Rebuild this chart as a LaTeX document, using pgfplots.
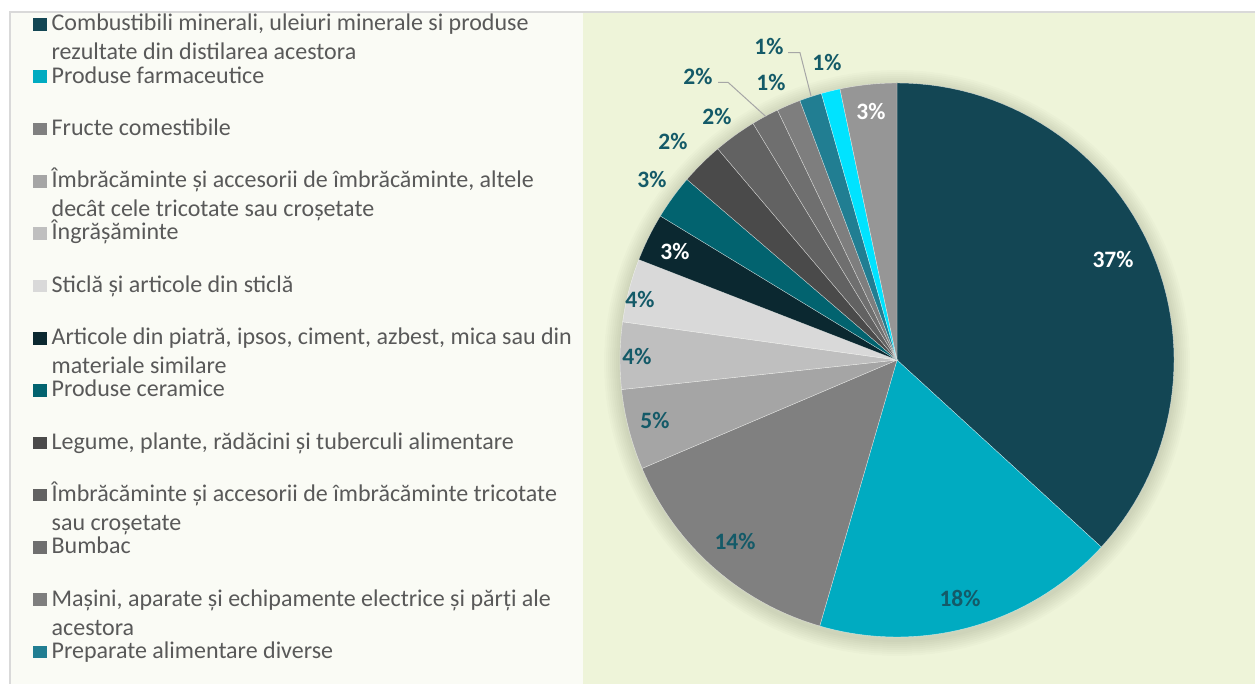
\documentclass[border=0pt]{standalone}
\usepackage{pgfplots}
\pgfplotsset{compat=1.18}
\usepackage{pgfplotstable}
\usepackage{fontspec}
\setmainfont{Carlito}

\definecolor{s0}{HTML}{134654}
\definecolor{s1}{HTML}{00ABC1}
\definecolor{s2}{HTML}{808080}
\definecolor{s3}{HTML}{A5A5A5}
\definecolor{s4}{HTML}{BFBFBF}
\definecolor{s5}{HTML}{D9D9D9}
\definecolor{s6}{HTML}{0B2830}
\definecolor{s7}{HTML}{02636F}
\definecolor{s8}{HTML}{4A4A4A}
\definecolor{s9}{HTML}{626262}
\definecolor{s10}{HTML}{6F6F6F}
\definecolor{s11}{HTML}{7E7E7E}
\definecolor{s12}{HTML}{217E92}
\definecolor{s13}{HTML}{00E3FF}
\definecolor{s14}{HTML}{969696}
\definecolor{bordergray}{HTML}{D9D9D9}
\definecolor{legbg}{HTML}{FAFBF5}
\definecolor{plotbg}{HTML}{EEF4D9}
\definecolor{labc}{HTML}{145A68}
\definecolor{legtext}{HTML}{595959}
\definecolor{leader}{HTML}{A6A6A6}

% share of each group, clockwise from 12 o'clock (percent)
\pgfplotstableread{
v
36.8
17.7
14.1
4.7
3.9
3.7
2.8
2.6
2.5
2.5
1.6
1.4
1.3
1.1
3.3
}\piedata

\newcommand{\lgt}[1]{\rule[-36.3pt]{0pt}{52.3pt}\smash{\parbox[t]{600pt}{\setlength{\baselineskip}{29pt}#1}}}

\begin{document}
\begin{tikzpicture}[lbl/.style={font=\fontsize{23.5}{23.5}\selectfont\bfseries, text=labc}]
\fill[white] (0pt,0pt) rectangle (1255pt,684pt);
\fill[bordergray] (9pt,0pt) rectangle (1255pt,673pt);
\fill[legbg] (11pt,0pt) rectangle (583pt,671.3pt);
\fill[plotbg] (583pt,0pt) rectangle (1255pt,671.3pt);
\begin{axis}[
  at={(0pt,0pt)}, anchor=south west,
  scale only axis, width=1255pt, height=684pt,
  xmin=0, xmax=1255, ymin=0, ymax=684,
  hide axis, clip=false,
  legend image code/.code={\fill[#1,draw=none] (0pt,0pt) rectangle (13.4pt,12.6pt);},
  legend style={at={(0.0265,0.9785)}, anchor=north west, draw=none, fill=none,
    inner sep=0pt, outer sep=0pt, row sep=0pt, column sep=5pt,
    nodes={inner sep=0pt, outer sep=0pt, text height=16pt, text depth=36.3pt},
    cells={anchor=base west},
    font=\fontsize{24}{29}\selectfont, text=legtext},
]
% soft shadow
\pgfplotsinvokeforeach{1,...,8}{
  \addplot[forget plot, draw=none, fill=black, fill opacity=0.016, domain=0:360, samples=120]
    ({897+(277+2*#1)*sin(x)},{321+(277+2*#1)*cos(x)}) -- cycle;
}
\xdef\cum{0}
\pgfplotsinvokeforeach{0,...,14}{
  \pgfplotstablegetelem{#1}{v}\of\piedata
  \pgfmathsetmacro{\sa}{\cum*3.6}
  \pgfmathsetmacro{\sb}{(\cum+\pgfplotsretval)*3.6}
  \pgfmathsetmacro{\nc}{\cum+\pgfplotsretval}
  \xdef\cum{\nc}
  \addplot[fill=s#1, draw=white, draw opacity=0.6, line width=0.4pt, domain=\sa:\sb, samples=60]
    ({897+277*sin(x)},{324+277*cos(x)}) -- (axis cs:897,324) -- cycle;
}
\legend{
  {\lgt{Combustibili minerali, uleiuri minerale si produse\\rezultate din distilarea acestora}},
  {\lgt{Produse farmaceutice}},
  {\lgt{Fructe comestibile}},
  {\lgt{Îmbrăcăminte și accesorii de îmbrăcăminte, altele\\decât cele tricotate sau croșetate}},
  {\lgt{Îngrășăminte}},
  {\lgt{Sticlă și articole din sticlă}},
  {\lgt{Articole din piatră, ipsos, ciment, azbest, mica sau din\\materiale similare}},
  {\lgt{Produse ceramice}},
  {\lgt{Legume, plante, rădăcini și tuberculi alimentare}},
  {\lgt{Îmbrăcăminte și accesorii de îmbrăcăminte tricotate\\sau croșetate}},
  {\lgt{Bumbac}},
  {\lgt{Mașini, aparate și echipamente electrice și părți ale\\acestora}},
  {\lgt{Preparate alimentare diverse}}
}
% leader lines
\addplot[forget plot, draw=leader, line width=1pt] coordinates {(718,601.7) (728,601.7) (766,567.3)};
\addplot[forget plot, draw=leader, line width=1pt] coordinates {(788,631.3) (800,631.3) (811,588)};
% data labels
\node[lbl, text=white] at (axis cs:1113,424) {37\%};
\node[lbl] at (axis cs:960,86) {18\%};
\node[lbl] at (axis cs:735,142) {14\%};
\node[lbl] at (axis cs:655,263) {5\%};
\node[lbl] at (axis cs:637,327) {4\%};
\node[lbl] at (axis cs:640,384) {4\%};
\node[lbl, text=white] at (axis cs:675,432) {3\%};
\node[lbl] at (axis cs:652,504) {3\%};
\node[lbl] at (axis cs:673,542) {2\%};
\node[lbl] at (axis cs:717,567) {2\%};
\node[lbl] at (axis cs:698,607) {2\%};
\node[lbl] at (axis cs:771,601) {1\%};
\node[lbl] at (axis cs:769,637) {1\%};
\node[lbl] at (axis cs:827,621) {1\%};
\node[lbl, text=white] at (axis cs:871,572) {3\%};
\end{axis}
\pgfresetboundingbox
\path[use as bounding box] (0pt,0pt) rectangle (1255pt,684pt);
\end{tikzpicture}
\end{document}
